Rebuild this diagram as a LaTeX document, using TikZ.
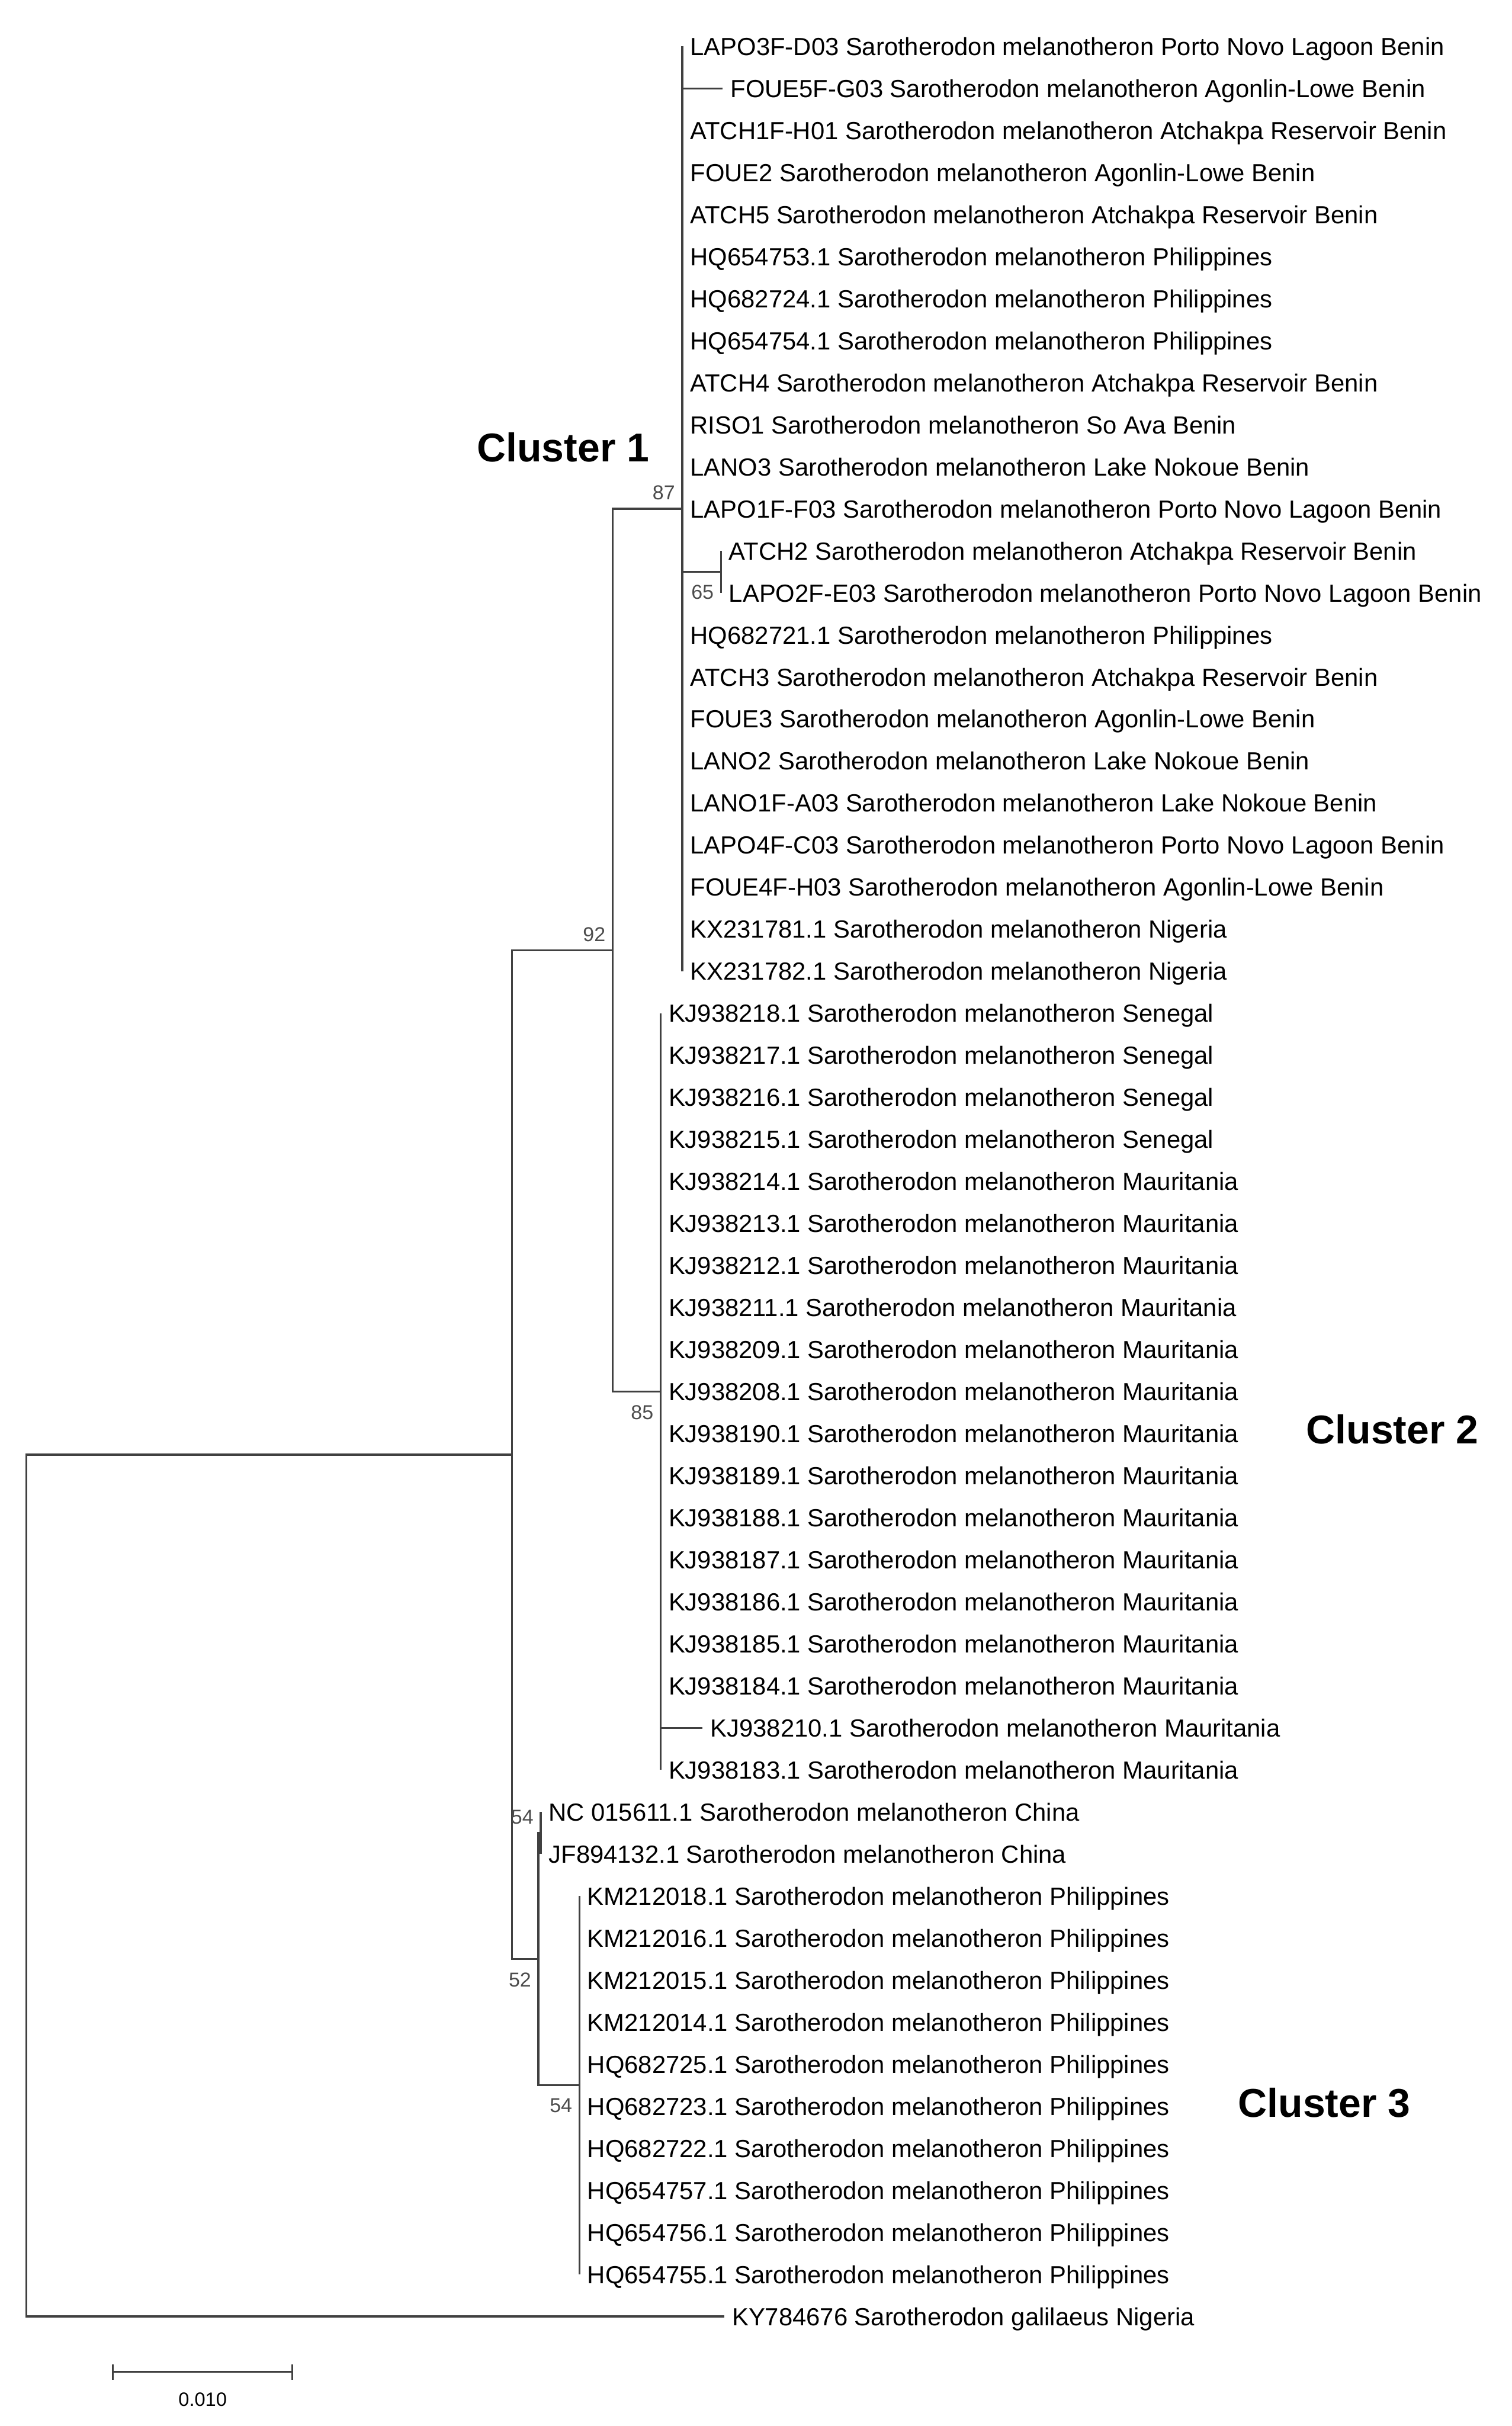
\documentclass[tikz,border=0pt]{standalone}
\usepackage{fontspec}
\setmainfont{Liberation Sans}
\usetikzlibrary{positioning,calc}

\tikzset{
  branch/.style={draw=black!75,line width=1.3pt},
  leaf/.style={anchor=west,inner xsep=5pt,inner ysep=0pt,text height=11.5pt,text depth=0pt,font=\fontsize{16}{18}\selectfont},
  boot/.style={inner sep=1.5pt,text=black!70,font=\fontsize{13}{15}\selectfont},
  bootup/.style={boot,anchor=south east,xshift=-3pt,yshift=4pt},
  bootdn/.style={boot,anchor=north east,xshift=-3pt,yshift=-7pt},
  clus/.style={font=\fontsize{26}{30}\selectfont\bfseries}
}

\begin{document}
\begin{tikzpicture}[x=1pt,y=-27.17pt]
\useasboundingbox (0,-0.104) rectangle (977,57.606);
% internal nodes (x in pt, y in rows)
\coordinate (root) at (17,44.75);
\coordinate (nIn) at (331,34.5);
\coordinate (n92) at (396,22.5);
\coordinate (n87) at (441,12);
\coordinate (n65) at (466,13.5);
\coordinate (n85) at (427,33);
\coordinate (n52) at (348,46.5);
\coordinate (n54a) at (349.5,43.5);
\coordinate (n54b) at (374.5,49.5);

% taxa
\foreach \n/\x/\id/\pl in {
  1/441/LAPO3F-D03/Porto Novo Lagoon Benin,
  2/467/FOUE5F-G03/Agonlin-Lowe Benin,
  3/441/ATCH1F-H01/Atchakpa Reservoir Benin,
  4/441/FOUE2/Agonlin-Lowe Benin,
  5/441/ATCH5/Atchakpa Reservoir Benin,
  6/441/HQ654753.1/Philippines,
  7/441/HQ682724.1/Philippines,
  8/441/HQ654754.1/Philippines,
  9/441/ATCH4/Atchakpa Reservoir Benin,
  10/441/RISO1/So Ava Benin,
  11/441/LANO3/Lake Nokoue Benin,
  12/441/LAPO1F-F03/Porto Novo Lagoon Benin,
  13/466/ATCH2/Atchakpa Reservoir Benin,
  14/466/LAPO2F-E03/Porto Novo Lagoon Benin,
  15/441/HQ682721.1/Philippines,
  16/441/ATCH3/Atchakpa Reservoir Benin,
  17/441/FOUE3/Agonlin-Lowe Benin,
  18/441/LANO2/Lake Nokoue Benin,
  19/441/LANO1F-A03/Lake Nokoue Benin,
  20/441/LAPO4F-C03/Porto Novo Lagoon Benin,
  21/441/FOUE4F-H03/Agonlin-Lowe Benin,
  22/441/KX231781.1/Nigeria,
  23/441/KX231782.1/Nigeria,
  24/427/KJ938218.1/Senegal,
  25/427/KJ938217.1/Senegal,
  26/427/KJ938216.1/Senegal,
  27/427/KJ938215.1/Senegal,
  28/427/KJ938214.1/Mauritania,
  29/427/KJ938213.1/Mauritania,
  30/427/KJ938212.1/Mauritania,
  31/427/KJ938211.1/Mauritania,
  32/427/KJ938209.1/Mauritania,
  33/427/KJ938208.1/Mauritania,
  34/427/KJ938190.1/Mauritania,
  35/427/KJ938189.1/Mauritania,
  36/427/KJ938188.1/Mauritania,
  37/427/KJ938187.1/Mauritania,
  38/427/KJ938186.1/Mauritania,
  39/427/KJ938185.1/Mauritania,
  40/427/KJ938184.1/Mauritania,
  41/454/KJ938210.1/Mauritania,
  42/427/KJ938183.1/Mauritania,
  43/349.5/NC 015611.1/China,
  44/349.5/JF894132.1/China,
  45/374.5/KM212018.1/Philippines,
  46/374.5/KM212016.1/Philippines,
  47/374.5/KM212015.1/Philippines,
  48/374.5/KM212014.1/Philippines,
  49/374.5/HQ682725.1/Philippines,
  50/374.5/HQ682723.1/Philippines,
  51/374.5/HQ682722.1/Philippines,
  52/374.5/HQ654757.1/Philippines,
  53/374.5/HQ654756.1/Philippines,
  54/374.5/HQ654755.1/Philippines}
  \node[leaf] (L\n) at (\x,\n) {\id\ Sarotherodon melanotheron \pl};
\node[leaf] (L55) at (468,55) {KY784676 Sarotherodon galilaeus Nigeria};

% branches
\draw[branch] (root) |- (nIn);
\draw[branch] (root) |- (L55.west);
\draw[branch] (nIn) |- (n92);
\draw[branch] (nIn) |- (n52);
\draw[branch] (n92) |- (n87);
\draw[branch] (n92) |- (n85);
\foreach \n in {1,...,12} \draw[branch] (n87) |- (L\n.west);
\foreach \n in {15,...,23} \draw[branch] (n87) |- (L\n.west);
\draw[branch] (n87) |- (n65);
\draw[branch] (n65) |- (L13.west);
\draw[branch] (n65) |- (L14.west);
\foreach \n in {24,...,42} \draw[branch] (n85) |- (L\n.west);
\draw[branch] (n52) |- (n54a);
\draw[branch] (n52) |- (n54b);
\draw[branch] (n54a) |- (L43.west);
\draw[branch] (n54a) |- (L44.west);
\foreach \n in {45,...,54} \draw[branch] (n54b) |- (L\n.west);

% bootstrap values
\node[bootup] (b87) at (n87) {87};
\node[bootup] (b92) at (n92) {92};
\node[bootdn] (b65) at (n65) {65};
\node[bootdn] (b85) at (n85) {85};
\node[bootup] (b54a) at (n54a) {54};
\node[bootdn] (b52) at (n52) {52};
\node[bootdn] (b54b) at (n54b) {54};

% clusters
\node[clus] (c1) at (364,10.53) {Cluster 1};
\node[clus] (c2) at (900,33.90) {Cluster 2};
\node[clus] (c3) at (856,49.91) {Cluster 3};

% scale bar
\coordinate (sbL) at (73,56.32);
\coordinate (sbR) at (189,56.32);
\draw[branch] (sbL) -- (sbR);
\draw[branch] ([yshift=5pt]sbL) -- ([yshift=-5pt]sbL);
\draw[branch] ([yshift=5pt]sbR) -- ([yshift=-5pt]sbR);
\node[boot,text=black,font=\fontsize{12.5}{14}\selectfont] (sbT) at (131,56.98) {0.010};
\end{tikzpicture}
\end{document}
